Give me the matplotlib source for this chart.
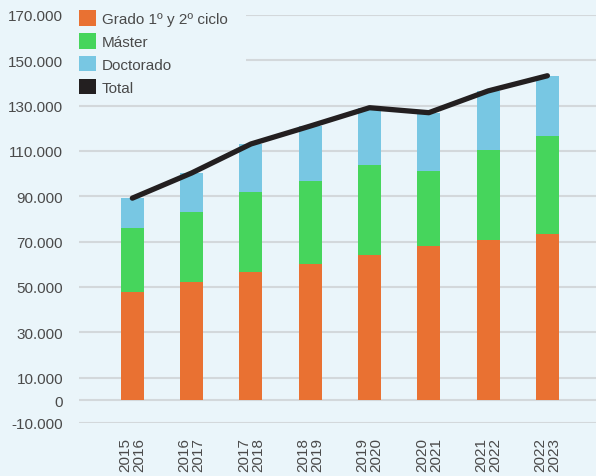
import matplotlib
matplotlib.use("Agg")
import matplotlib.pyplot as plt
import matplotlib.ticker as mticker
from matplotlib.patches import Patch, Rectangle
import numpy as np

categories = ["2015\n2016", "2016\n2017", "2017\n2018", "2018\n2019",
              "2019\n2020", "2020\n2021", "2021\n2022", "2022\n2023"]
grado = [47900, 52400, 56500, 60300, 64300, 68300, 70700, 73600]
master = [28000, 30600, 35300, 36400, 39500, 32900, 39800, 43100]
doctorado = [13300, 17300, 21300, 24300, 25300, 25700, 26000, 26500]
yticks = [170000, 150000, 130000, 110000, 90000, 70000, 50000, 30000, 10000, 0, -10000]

series_names = ["Grado 1º y 2º ciclo", "Máster", "Doctorado", "Total"]
colors = ["#e97132", "#46d55c", "#78c7e3", "#231f20"]
bg = "#eaf5fa"
textc = "#4a4a4a"

plt.rcParams["font.family"] = ["Liberation Sans", "DejaVu Sans"]

fig = plt.figure(figsize=(5.96, 4.77), dpi=100, facecolor=bg)
ax = fig.add_axes([79/596, (477-424)/477, (596-79)/596, (424-16)/477])
ax.set_facecolor(bg)

x = np.arange(len(categories))
g = np.array(grado); m = np.array(master); d = np.array(doctorado)
total = g + m + d
w = 0.39
ax.bar(x, g, w, color=colors[0], zorder=2)
ax.bar(x, m, w, bottom=g, color=colors[1], zorder=2)
ax.bar(x, d, w, bottom=g + m, color=colors[2], zorder=2)
ax.plot(x, total, color=colors[3], lw=3.8, solid_capstyle="round",
        solid_joinstyle="round", zorder=3)

ax.set_ylim(-10000, 170000)
ax.set_xlim(-0.9, 7.82)
ax.set_yticks(yticks)
ax.yaxis.set_major_formatter(mticker.FuncFormatter(
    lambda v, p: f"{int(v):,}".replace(",", ".")))
ax.grid(axis="y", color="#d3d8db", lw=1.5, zorder=0)
ax.set_axisbelow(True)
for s in ax.spines.values():
    s.set_visible(False)
ax.tick_params(axis="y", length=0, pad=11.5, labelsize=11, labelcolor=textc)
ax.tick_params(axis="x", length=0, pad=10, labelsize=11, labelcolor=textc)
ax.set_xticks(x)
ax.set_xticklabels(categories, rotation=90, va="top", ha="center", linespacing=1.0)

# background block behind legend that hides the gridlines
ax.add_patch(Rectangle((78/596, (477-100)/477), (246-78)/596, 100/477,
                       transform=fig.transFigure, facecolor=bg,
                       edgecolor="none", zorder=1, clip_on=False))

handles = [Patch(facecolor=c, edgecolor="none") for c in colors]
leg = ax.legend(handles, series_names, loc="upper left", bbox_to_anchor=(0.0, 1.012),
                frameon=False, fontsize=11, handlelength=1.1, handleheight=1.2,
                handletextpad=0.4, labelspacing=0.45, borderaxespad=0, borderpad=0)
leg.set_zorder(5)
for t in leg.get_texts():
    t.set_color(textc)

fig.savefig("out.png", dpi=100, facecolor=bg)
